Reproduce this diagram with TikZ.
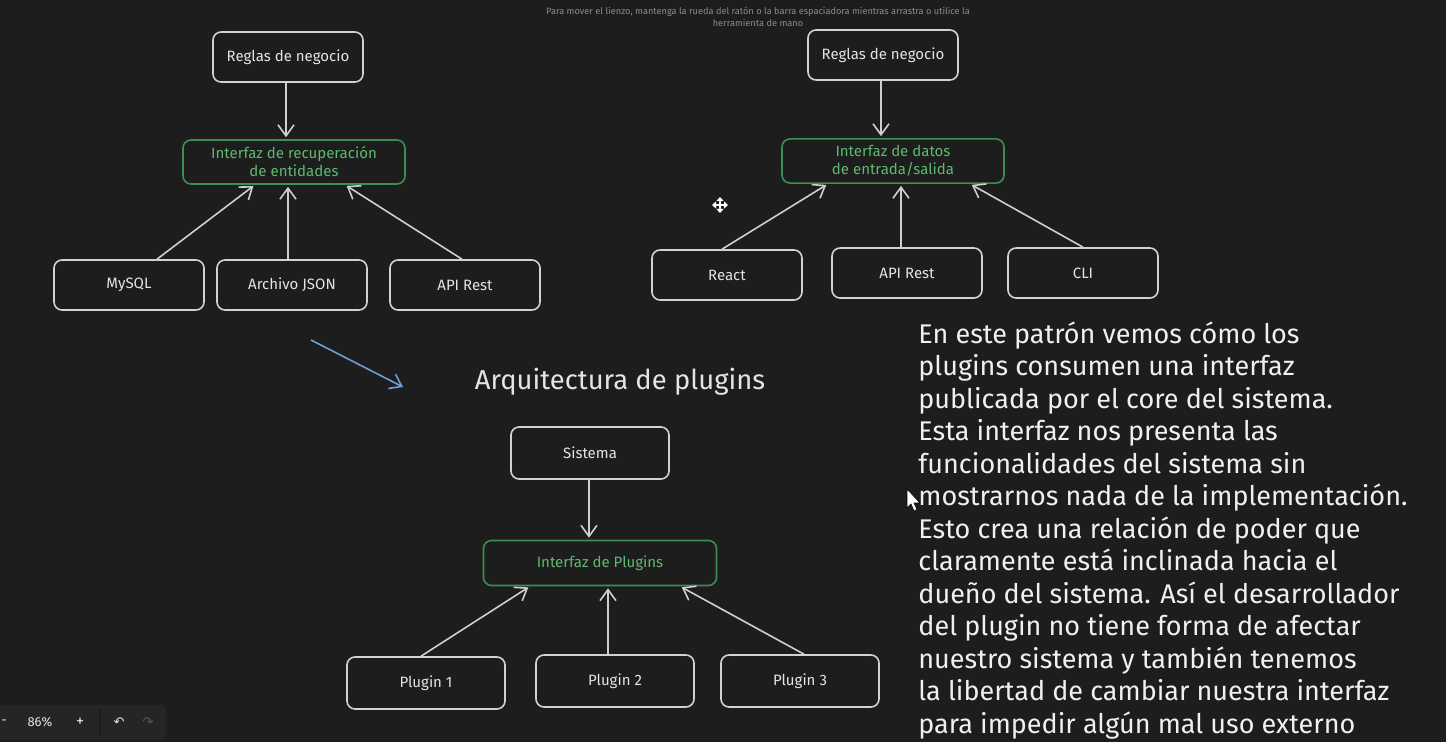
\documentclass[tikz,border=0pt]{standalone}
\usepackage{fontspec}
\setmainfont{Fira Sans}
\newfontfamily\symfont{DejaVu Sans}
\usepackage{tikz}
\usetikzlibrary{arrows.meta,calc}
\definecolor{bgdark}{HTML}{1D1D1D}
\definecolor{barfill}{HTML}{252527}
\definecolor{boxline}{HTML}{D2D2D2}
\definecolor{boxtext}{HTML}{E4E4E4}
\definecolor{ifline}{HTML}{3B8F55}
\definecolor{iftext}{HTML}{5DBA6E}
\definecolor{arrline}{HTML}{CFCFCF}
\definecolor{blueline}{HTML}{6F9FD8}
\definecolor{hintgrey}{HTML}{8C8C8C}

\begin{document}
\begin{tikzpicture}[
  x=0.5pt, y=-0.5pt,
  blk/.style={draw=boxline, rounded corners=4pt, line width=0.8pt, align=center, text=boxtext,
    minimum width=75pt, minimum height=25pt, font=\fontsize{7.5}{9}\selectfont},
  blkb/.style={blk, minimum width=79pt, minimum height=26pt},
  ifz/.style={blk, draw=ifline, text=iftext, minimum width=111pt, minimum height=22pt},
  arr/.style={-{Straight Barb[length=5.5pt, width=8pt]}, line width=0.8pt, draw=arrline, shorten >=1pt},
  hint/.style={text=hintgrey, font=\fontsize{4.6}{6}\selectfont, align=center},
  tool/.style={text=boxtext, font=\fontsize{6.5}{8}\selectfont}
]
  \fill[bgdark] (0,0) rectangle (1446,742);
  \useasboundingbox (0,0) rectangle (1446,742);

  % aviso del lienzo
  \node[hint] (aviso) at (758,17) {Para mover el lienzo, mantenga la rueda del ratón o la barra espaciadora mientras arrastra o utilice la\\herramienta de mano};

  % recuperacion de entidades
  \node[blk] (rn1) at (288,57)  {Reglas de negocio};
  \node[ifz] (ifa) at (294,162) {Interfaz de recuperación\\de entidades};
  \node[blk] (my)  at (129,285) {MySQL};
  \node[blk] (js)  at (292,285) {Archivo JSON};
  \node[blk] (ap1) at (465,285) {API Rest};

  \draw[arr] ([xshift=-1pt]rn1.south) -- ([xshift=-1pt]rn1.south |- ifa.north);
  \draw[arr] ([xshift=14pt]my.north) -- ([xshift=-19.5pt]ifa.south);
  \draw[arr] ([xshift=-2pt]js.north) -- ([xshift=-2pt]js.north |- ifa.south);
  \draw[arr] ([xshift=-1.5pt]ap1.north) -- ([xshift=25.5pt]ifa.south);

  % datos de entrada/salida
  \node[blk] (rn2) at (883,55)  {Reglas de negocio};
  \node[ifz] (ifb) at (893,161) {Interfaz de datos\\de entrada/salida};
  \node[blk] (re)  at (727,275) {React};
  \node[blk] (ap2) at (907,273) {API Rest};
  \node[blk] (cli) at (1083,273) {CLI};

  \draw[arr] ([xshift=-1pt]rn2.south) -- ([xshift=-1pt]rn2.south |- ifb.north);
  \draw[arr] ([xshift=-2.5pt]re.north) -- ([xshift=-32.5pt]ifb.south);
  \draw[arr] ([xshift=-3pt]ap2.north) -- ([xshift=-3pt]ap2.north |- ifb.south);
  \draw[arr] (cli.north) -- ([xshift=38.5pt]ifb.south);

  % plugins
  \draw[-{Straight Barb[length=5.5pt, width=8pt]}, line width=0.8pt, draw=blueline] (311,340) -- (403,387);
  \node[text=boxtext, font=\fontsize{13.7}{16}\selectfont] (titulo) at (620,382) {Arquitectura de plugins};

  \node[blkb] (sis) at (590,453) {Sistema};
  \node[ifz, minimum width=116.5pt, minimum height=22.5pt] (ifc) at (600,563) {Interfaz de Plugins};
  \node[blkb] (p1) at (426,683) {Plugin 1};
  \node[blkb] (p2) at (615,681) {Plugin 2};
  \node[blkb] (p3) at (800,681) {Plugin 3};

  \draw[arr] ([xshift=-0.5pt]sis.south) -- ([xshift=-0.5pt]sis.south |- ifc.north);
  \draw[arr] ([xshift=-2.5pt]p1.north) -- ([xshift=-35pt]ifc.south);
  \draw[arr] ([xshift=-3.5pt]p2.north) -- ([xshift=-3.5pt]p2.north |- ifc.south);
  \draw[arr] ([xshift=2pt]p3.north) -- ([xshift=40pt]ifc.south);

  % texto explicativo
  \node[anchor=north west, align=left, text=white!94!black, inner sep=0pt,
        font=\fontsize{13.5}{16.25}\selectfont] (nota) at (918,321) {%
    En este patrón vemos cómo los\\
    plugins consumen una interfaz\\
    publicada por el core del sistema.\\
    Esta interfaz nos presenta las\\
    funcionalidades del sistema sin\\
    mostrarnos nada de la implementación.\\
    Esto crea una relación de poder que\\
    claramente está inclinada hacia el\\
    dueño del sistema. Así el desarrollador\\
    del plugin no tiene forma de afectar\\
    nuestro sistema y también tenemos\\
    la libertad de cambiar nuestra interfaz\\
    para impedir algún mal uso externo};

  % cursores
  \coordinate (mov) at (720,205);
  \foreach \dx/\dy in {1/0,-1/0,0/1,0/-1}
    \draw[-{Triangle[length=2pt, width=3.5pt]}, white, line width=0.9pt] (mov) -- ++(8*\dx,8*\dy);
  \fill[white, draw=black, line width=0.3pt] (907,489) -- (907,508) -- (911,504) -- (914,511) -- (917,509.5) -- (914,503) -- (920,503) -- cycle;

  % barra de zoom
  \fill[barfill, rounded corners=3pt] (-10,705) rectangle (166,740);
  \draw[bgdark, line width=0.8pt] (100,708) -- (100,737);
  \node[tool] (menos) at (4,722) {-};
  \node[tool] (zoom) at (40,722) {86\%};
  \node[tool, font=\fontsize{8}{9}\selectfont] (mas) at (80,722) {+};
  \node[tool, font=\symfont\fontsize{6.5}{8}\selectfont] (deshacer) at (119,722) {↶};
  \node[tool, text=hintgrey!50!barfill, font=\symfont\fontsize{6.5}{8}\selectfont] (rehacer) at (148,722) {↷};
\end{tikzpicture}
\end{document}
